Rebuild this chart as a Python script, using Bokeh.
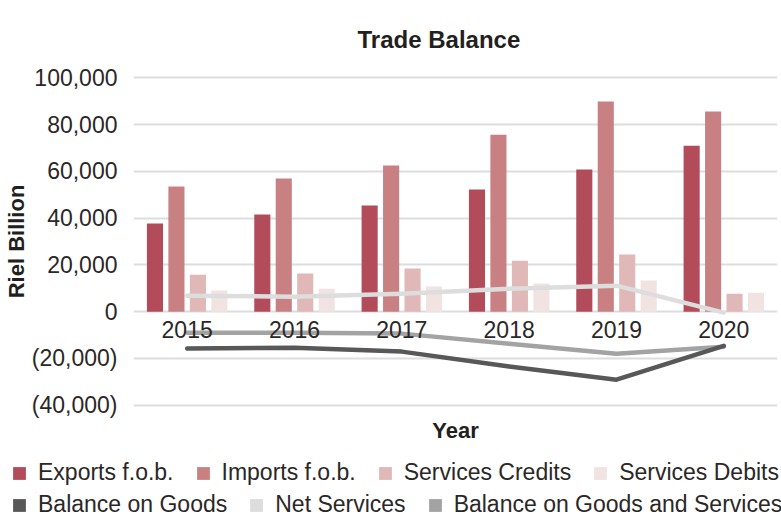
from bokeh.plotting import figure
from bokeh.layouts import column
from bokeh.models import (FactorRange, Range1d, FixedTicker, Legend, LegendItem,
                          Title, ColumnDataSource, Div)
from bokeh.transform import dodge
from bokeh.embed import file_html
from bokeh.resources import INLINE

years = ["2015", "2016", "2017", "2018", "2019", "2020"]
exports = [37700, 41500, 45400, 52200, 60800, 71000]
imports = [53500, 56900, 62500, 75700, 89900, 85600]
services_credits = [15800, 16300, 18400, 21800, 24400, 7700]
services_debits = [9000, 9800, 10700, 12000, 13300, 8100]
balance_goods = [-15800, -15400, -17100, -23500, -29100, -14600]
net_services = [6800, 6400, 7700, 9800, 11100, -400]
balance_goods_services = [-9000, -9000, -9400, -13700, -18000, -15000]

y_ticks = [-40000, -20000, 0, 20000, 40000, 60000, 80000, 100000]
y_tick_labels = ["(40,000)", "(20,000)", "0", "20,000", "40,000", "60,000", "80,000", "100,000"]

bar_cols = ["exports", "imports", "credits", "debits"]
bar_names = ["Exports f.o.b.", "Imports f.o.b.", "Services Credits", "Services Debits"]
bar_colors = ["#b34c5a", "#c88083", "#dfb8b7", "#f2e3e3"]
line_cols = ["goods", "net", "gs"]
line_names = ["Balance on Goods", "Net Services", "Balance on Goods and Services"]
line_colors = ["#585858", "#dcdddc", "#a3a3a3"]

FONT = "Liberation Sans"
TXT = "#2b2727"

src = ColumnDataSource(dict(years=years, exports=exports, imports=imports,
                            credits=services_credits, debits=services_debits,
                            goods=balance_goods, net=net_services, gs=balance_goods_services))

p = figure(x_range=FactorRange(*years, range_padding=0), y_range=Range1d(-41000, 101000),
           width=781, height=450, output_backend="svg", toolbar_location=None,
           min_border_left=131, min_border_right=4, min_border_top=75, min_border_bottom=43)
p.outline_line_color = None
p.background_fill_color = "white"

p.title.text = "Trade Balance"
p.title.text_font = FONT
p.title.text_font_size = "24px"
p.title.text_font_style = "bold"
p.title.text_color = "#231f20"
p.title.align = "left"
p.title.offset = 224
p.title.standoff = 45

for col, off, c in zip(bar_cols, [-0.3, -0.1, 0.1, 0.3], bar_colors):
    p.vbar(x=dodge("years", off, range=p.x_range), top=col, width=0.15, source=src,
           fill_color=c, line_color=None)

for col, c in zip(["net", "gs", "goods"], [line_colors[1], line_colors[2], line_colors[0]]):
    p.line("years", col, source=src, line_color=c, line_width=4.5, line_cap="round", line_join="round")

p.yaxis.ticker = FixedTicker(ticks=y_ticks)
p.yaxis.major_label_overrides = {t: l for t, l in zip(y_ticks, y_tick_labels)}
p.yaxis.axis_label = "Riel Billion"
p.yaxis.axis_label_text_font = FONT
p.yaxis.axis_label_text_font_size = "22px"
p.yaxis.axis_label_text_font_style = "bold"
p.yaxis.axis_label_text_color = "#231f20"
p.yaxis.axis_label_standoff = 0
p.yaxis.major_label_text_font = FONT
p.yaxis.major_label_text_font_size = "23px"
p.yaxis.major_label_text_color = TXT
p.yaxis.major_label_standoff = 10
p.yaxis.axis_line_color = None
p.yaxis.major_tick_line_color = None
p.yaxis.minor_tick_line_color = None

p.xaxis.fixed_location = 0
p.xaxis.major_label_text_font = FONT
p.xaxis.major_label_text_font_size = "23px"
p.xaxis.major_label_text_color = TXT
p.xaxis.major_label_standoff = 3
p.xaxis.axis_line_color = None
p.xaxis.major_tick_line_color = None
p.xaxis.minor_tick_line_color = None

p.xgrid.grid_line_color = None
p.ygrid.grid_line_color = "#dddddd"
p.ygrid.grid_line_width = 2

p.add_layout(Title(text="Year", align="center", text_font=FONT, text_font_size="22px",
                   text_font_style="bold", text_color="#231f20", standoff=16), "below")

# legend strip: swatch renderers use the real data but lie outside the visible range
lg = figure(width=781, height=66, output_backend="svg", toolbar_location=None, title=None,
            x_range=FactorRange(*years), y_range=Range1d(200000, 300000),
            x_axis_location=None, y_axis_location=None,
            min_border_left=0, min_border_right=0, min_border_top=0, min_border_bottom=0)
lg.outline_line_color = None
lg.xgrid.visible = False
lg.ygrid.visible = False

def make_legend(cols, names, colors, loc):
    items = [LegendItem(label=n, renderers=[lg.vbar(x="years", top=c_, width=0.1, source=src,
                                                    fill_color=c, line_color=None)])
             for c_, n, c in zip(cols, names, colors)]
    return Legend(items=items, orientation="horizontal", location=loc,
                  label_text_font=FONT, label_text_font_size="23px", label_text_color=TXT,
                  glyph_width=16, glyph_height=16, label_standoff=11, spacing=21,
                  padding=0, margin=0, border_line_color=None, background_fill_alpha=0)

try:
    lg.frame_align = False
    p.frame_align = False
    lg.add_layout(make_legend(bar_cols, bar_names, bar_colors, (11, 30)), "center")
    lg.add_layout(make_legend(line_cols, line_names, line_colors, (11, -2)), "center")
    layout = column(p, lg)
except Exception:
    def row_html(names, colors):
        parts = []
        for i, (n, c) in enumerate(zip(names, colors)):
            ml = 11 if i == 0 else 0
            parts.append(f'<span style="display:inline-block;width:16px;height:16px;background:{c};'
                         f'margin-left:{ml}px;margin-right:11px;vertical-align:-1px"></span>'
                         f'<span style="margin-right:21px">{n}</span>')
        return "<div>" + "".join(parts) + "</div>"
    html = (f'<div style="font-family:\'{FONT}\';font-size:23px;color:{TXT};line-height:32px;'
            f'padding-top:6px;white-space:nowrap">'
            + row_html(bar_names, bar_colors) + row_html(line_names, line_colors) + "</div>")
    layout = column(p, Div(text=html, width=781, height=66, margin=0))

open("out.html", "w").write(file_html(layout, INLINE))
